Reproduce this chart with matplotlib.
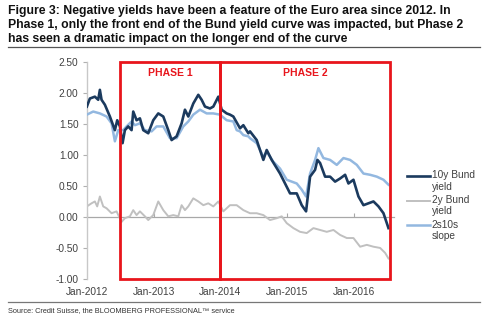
import matplotlib.pyplot as plt
from matplotlib.lines import Line2D
import numpy as np

# Decimal-year time stamps and values
t_10y = [2012.00, 2012.045, 2012.12, 2012.17, 2012.195, 2012.22, 2012.27, 2012.345, 2012.42, 2012.455,
         2012.495, 2012.535, 2012.57, 2012.62, 2012.67, 2012.695, 2012.745, 2012.795, 2012.845, 2012.92,
         2012.995, 2013.07, 2013.145, 2013.22, 2013.27, 2013.345, 2013.42, 2013.47, 2013.52, 2013.595,
         2013.67, 2013.72, 2013.77, 2013.845, 2013.895, 2013.97, 2014.02, 2014.095, 2014.145, 2014.195,
         2014.295, 2014.345, 2014.42, 2014.445, 2014.545, 2014.645, 2014.695, 2014.77, 2014.895, 2014.97,
         2015.045, 2015.145, 2015.22, 2015.285, 2015.345, 2015.42, 2015.455, 2015.495, 2015.57, 2015.645,
         2015.72, 2015.795, 2015.87, 2015.92, 2015.995, 2016.07, 2016.145, 2016.22, 2016.295, 2016.37,
         2016.445, 2016.52]
bund_10y = [1.78, 1.91, 1.94, 1.89, 2.05, 1.89, 1.81, 1.62, 1.40, 1.56,
            1.46, 1.19, 1.40, 1.46, 1.40, 1.70, 1.56, 1.59, 1.40, 1.35,
            1.56, 1.67, 1.62, 1.40, 1.24, 1.30, 1.51, 1.73, 1.62, 1.83,
            1.97, 1.89, 1.78, 1.75, 1.78, 1.94, 1.73, 1.67, 1.65, 1.62,
            1.43, 1.48, 1.35, 1.38, 1.24, 0.92, 1.08, 0.92, 0.70, 0.54,
            0.38, 0.38, 0.19, 0.09, 0.65, 0.76, 0.92, 0.87, 0.65, 0.65,
            0.57, 0.62, 0.68, 0.54, 0.60, 0.33, 0.19, 0.22, 0.25, 0.17,
            0.06, -0.18]

t_2y = [2012.00, 2012.07, 2012.12, 2012.155, 2012.195, 2012.245, 2012.295, 2012.37, 2012.445, 2012.52,
        2012.57, 2012.645, 2012.695, 2012.745, 2012.795, 2012.87, 2012.92, 2012.995, 2013.07, 2013.145,
        2013.22, 2013.295, 2013.37, 2013.42, 2013.47, 2013.52, 2013.595, 2013.67, 2013.745, 2013.82,
        2013.895, 2013.97, 2014.045, 2014.145, 2014.245, 2014.345, 2014.445, 2014.545, 2014.645, 2014.745,
        2014.845, 2014.92, 2014.995, 2015.095, 2015.195, 2015.295, 2015.395, 2015.495, 2015.595, 2015.695,
        2015.795, 2015.895, 2015.995, 2016.095, 2016.195, 2016.295, 2016.395, 2016.47, 2016.52]
bund_2y = [0.17, 0.22, 0.25, 0.17, 0.33, 0.17, 0.14, 0.06, 0.09, -0.08,
           -0.02, 0.01, 0.11, 0.03, 0.09, 0.01, -0.05, 0.03, 0.25, 0.11,
           0.01, 0.03, 0.01, 0.19, 0.11, 0.17, 0.30, 0.25, 0.19, 0.22,
           0.17, 0.25, 0.09, 0.19, 0.19, 0.11, 0.06, 0.06, 0.03, -0.05,
           -0.02, 0.01, -0.10, -0.18, -0.24, -0.26, -0.18, -0.21, -0.24, -0.21,
           -0.29, -0.34, -0.34, -0.48, -0.45, -0.48, -0.50, -0.58, -0.67]

t_slope = [2012.00, 2012.095, 2012.195, 2012.295, 2012.37, 2012.42, 2012.47, 2012.545, 2012.595, 2012.67,
           2012.72, 2012.795, 2012.87, 2012.97, 2013.045, 2013.145, 2013.245, 2013.345, 2013.445, 2013.52,
           2013.595, 2013.695, 2013.795, 2013.895, 2013.995, 2014.095, 2014.195, 2014.245, 2014.295, 2014.345,
           2014.42, 2014.445, 2014.545, 2014.645, 2014.695, 2014.795, 2014.895, 2014.995, 2015.07, 2015.145,
           2015.22, 2015.285, 2015.345, 2015.42, 2015.47, 2015.545, 2015.645, 2015.745, 2015.845, 2015.945,
           2016.045, 2016.145, 2016.245, 2016.345, 2016.445, 2016.52]
slope_2s10s = [1.65, 1.70, 1.67, 1.62, 1.51, 1.22, 1.40, 1.40, 1.46, 1.54,
               1.48, 1.51, 1.40, 1.38, 1.46, 1.46, 1.27, 1.27, 1.46, 1.54,
               1.65, 1.73, 1.67, 1.67, 1.65, 1.56, 1.54, 1.40, 1.38, 1.32,
               1.30, 1.27, 1.19, 0.97, 1.05, 0.89, 0.78, 0.60, 0.57, 0.54,
               0.44, 0.33, 0.70, 0.92, 1.11, 0.95, 0.92, 0.84, 0.95, 0.92,
               0.84, 0.70, 0.68, 0.65, 0.60, 0.52]

years = [2012, 2013, 2014, 2015, 2016]
year_labels = ["Jan-2012", "Jan-2013", "Jan-2014", "Jan-2015", "Jan-2016"]
y_ticks = [-1.0, -0.5, 0.0, 0.5, 1.0, 1.5, 2.0, 2.5]
phase1 = (2012.495, 2014.0)
phase2 = (2014.0, 2016.54)

font = "Liberation Sans"
navy = "#1b3a5e"
grey = "#c0c0c0"
light = "#93b8e0"
red = "#e8151c"
txt = "#404040"

fig = plt.figure(figsize=(4.88, 3.21), dpi=100)
ax = fig.add_axes([0.178, 0.131, 0.629, 0.676])

ax.plot(t_2y, bund_2y, color=grey, lw=1.4, zorder=2)
ax.plot(t_slope, slope_2s10s, color=light, lw=1.8, zorder=3)
ax.plot(t_10y, bund_10y, color=navy, lw=1.9, zorder=4)

ax.set_xlim(2012, 2016.6)
ax.set_ylim(-1.0, 2.5)
ax.set_yticks(y_ticks)
ax.set_yticklabels(["%.2f" % v for v in y_ticks], fontsize=7.3, fontname=font, color=txt)
ax.set_xticks(years)
ax.set_xticklabels(year_labels, fontsize=7.3, fontname=font, color=txt)
ax.tick_params(axis="x", length=0, pad=6)
ax.tick_params(axis="y", length=3, width=0.8, color="#b0b0b0", pad=3)
for s in ["top", "right", "bottom"]:
    ax.spines[s].set_visible(False)
ax.spines["left"].set_color("#c8c8c8")
ax.spines["left"].set_linewidth(1.0)

# zero line with small year ticks
zero = ax.secondary_xaxis(1 / 3.5)
zero.set_xticks(years)
zero.set_xticklabels([])
zero.tick_params(direction="in", length=3, width=0.8, color="#a8a8a8")
zero.spines["bottom"].set_color("#a8a8a8")
zero.spines["bottom"].set_linewidth(0.9)

# phase boxes
for (x0, x1), name in [(phase1, "PHASE 1"), (phase2, "PHASE 2")]:
    ax.add_patch(plt.Rectangle((x0, -1.0), x1 - x0, 3.5, fill=False, ec=red, lw=2.0,
                               clip_on=False, zorder=5))
    ax.text((x0 + x1) / 2, 2.32, name, color=red, fontsize=7.5, fontweight="bold",
            fontname=font, ha="center", va="center")

# legend drawn by hand so the handle sits on the first text line
legend = [("10y Bund\nyield", navy, 1.9), ("2y Bund\nyield", grey, 1.4), ("2s10s\nslope", light, 1.8)]
for i, (lab, col, lw) in enumerate(legend):
    y = 0.452 - i * 0.077
    fig.add_artist(Line2D([0.834, 0.881], [y, y], color=col, lw=lw))
    fig.text(0.885, y + 0.017, lab, fontsize=7.3, fontname=font, color=txt, va="top",
             linespacing=1.15)

# title and rules
fig.text(0.016, 0.984, "Figure 3: Negative yields have been a feature of the Euro area since 2012. In\n"
         "Phase 1, only the front end of the Bund yield curve was impacted, but Phase 2\n"
         "has seen a dramatic impact on the longer end of the curve",
         fontsize=8.8, fontweight="bold", fontname=font, va="top", ha="left", linespacing=1.22,
         color="#111111")
fig.add_artist(Line2D([0.016, 0.984], [0.853, 0.853], color="#555555", lw=0.9))
fig.add_artist(Line2D([0.016, 0.984], [0.059, 0.059], color="#777777", lw=0.9))
fig.text(0.016, 0.034, "Source: Credit Suisse, the BLOOMBERG PROFESSIONAL\u2122 service",
         fontsize=5.3, fontname=font, color="#333333", va="center", ha="left")

fig.savefig("out.png", dpi=100)
